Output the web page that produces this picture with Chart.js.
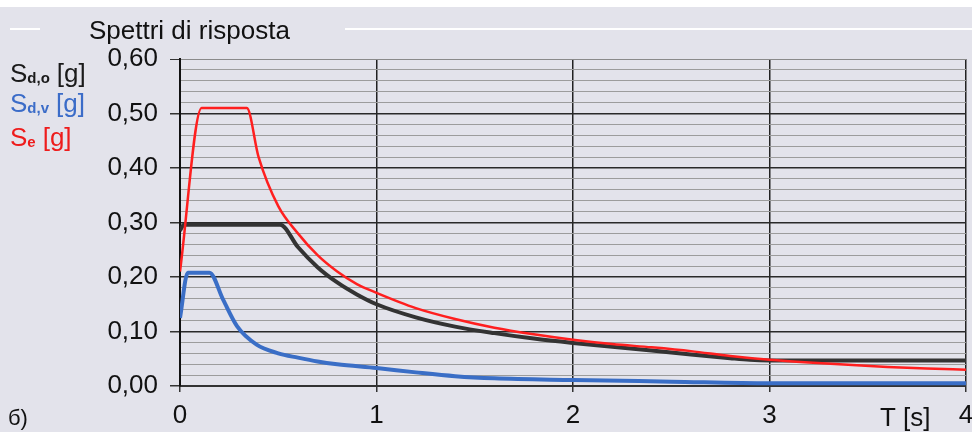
<!DOCTYPE html>
<html>
<head>
<meta charset="utf-8">
<script src="https://cdn.jsdelivr.net/npm/chart.js@4"></script>
<style>
  html, body { margin: 0; padding: 0; background: #e3e3eb; }
  #wrap { position: relative; width: 972px; height: 432px; }
</style>
</head>
<body>
<div id="wrap"><canvas id="myChart" width="972" height="432"></canvas></div>
<script>
// Se [g] - elastic spectrum (red)
var tSe = [0, 0.11, 0.34, 0.4, 0.5, 0.6, 0.7, 0.8, 0.9, 1.0, 1.2, 1.4, 1.6, 1.8, 2.0, 2.2, 2.4, 2.6, 2.8, 3.0, 3.2, 3.4, 3.6, 3.8, 4.0];
var se  = [0.21, 0.51, 0.51, 0.42, 0.33, 0.28, 0.24, 0.21, 0.187, 0.171, 0.143, 0.123, 0.107, 0.095, 0.085, 0.077, 0.071, 0.064, 0.055, 0.048, 0.043, 0.039, 0.035, 0.032, 0.030];
// Sd,o [g] - horizontal design spectrum (black)
var tSdo = [0, 0.02, 0.51, 0.6, 0.7, 0.8, 0.9, 1.0, 1.2, 1.4, 1.6, 1.8, 2.0, 2.2, 2.4, 2.6, 2.8, 2.9, 3.0, 3.5, 4.0];
var sdo  = [0.285, 0.296, 0.296, 0.255, 0.218, 0.19, 0.168, 0.15, 0.126, 0.109, 0.097, 0.087, 0.079, 0.072, 0.065, 0.058, 0.051, 0.048, 0.047, 0.047, 0.047];
// Sd,v [g] - vertical design spectrum (blue)
var tSdv = [0, 0.04, 0.15, 0.22, 0.29, 0.39, 0.5, 0.6, 0.7, 0.8, 1.0, 1.2, 1.4, 1.6, 2.0, 2.5, 3.0, 4.0];
var sdv  = [0.125, 0.208, 0.208, 0.158, 0.11, 0.076, 0.06, 0.052, 0.045, 0.04, 0.033, 0.025, 0.018, 0.014, 0.011, 0.008, 0.005, 0.005];

var xTicks = [0, 1, 2, 3, 4];

var FONT = "'Liberation Sans', Arial, sans-serif";

function pts(t, v) {
  return t.map(function(x, i) { return { x: x, y: v[i] }; });
}
function isMajor(v) {
  return Math.round(v * 50) % 5 === 0;
}

var decor = {
  id: 'decor',
  beforeDraw: function(chart) {
    var c = chart.ctx;
    c.save();
    c.fillStyle = '#e3e3eb';
    c.fillRect(0, 0, 972, 432);
    c.fillStyle = '#ffffff';
    c.fillRect(0, 0, 972, 7);
    c.strokeStyle = '#ffffff';
    c.lineWidth = 2;
    c.beginPath();
    c.moveTo(10, 29); c.lineTo(40, 29);
    c.moveTo(345, 29); c.lineTo(972, 29);
    c.stroke();
    c.restore();
  },
  afterDraw: function(chart) {
    var c = chart.ctx;
    c.save();
    c.textBaseline = 'alphabetic';
    c.fillStyle = '#111';
    c.font = '26px ' + FONT;
    c.fillText('Spettri di risposta', 89, 39);

    function label(y, sub, col) {
      var x = 10;
      c.fillStyle = col;
      c.font = '26px ' + FONT;
      c.fillText('S', x, y);
      x += c.measureText('S').width;
      c.font = 'bold 15px ' + FONT;
      c.fillText(sub, x, y + 1);
      x += c.measureText(sub).width + 7;
      c.font = '26px ' + FONT;
      c.fillText('[g]', x, y);
    }
    label(82, 'd,o', '#1a1a1a');
    label(112, 'd,v', '#3b6cc8');
    label(146, 'e', '#ee1c1c');

    c.fillStyle = '#111';
    c.font = '26px ' + FONT;
    c.fillText('T [s]', 880, 426);
    c.font = '22px ' + FONT;
    c.fillText('б)', 8, 425);
    c.restore();
  }
};

var chart = new Chart('myChart', {
  type: 'line',
  data: {
    datasets: [
      { label: 'Se', data: pts(tSe, se), borderColor: '#ff1f1f', borderWidth: 2.5, order: 0 },
      { label: 'Sd,o', data: pts(tSdo, sdo), borderColor: '#333333', borderWidth: 4, order: 1 },
      { label: 'Sd,v', data: pts(tSdv, sdv), borderColor: '#3a6ec6', borderWidth: 4, order: 2 }
    ]
  },
  options: {
    responsive: false,
    animation: false,
    layout: { padding: { top: 59, right: 6, left: 0, bottom: 0 } },
    elements: { point: { radius: 0 }, line: { cubicInterpolationMode: 'monotone', borderJoinStyle: 'round' } },
    plugins: { legend: { display: false }, tooltip: { enabled: false } },
    scales: {
      x: {
        type: 'linear', min: 0, max: 4,
        afterFit: function(s) { s.height = 46; s.paddingRight = 0; s.paddingLeft = 0; },
        afterBuildTicks: function(s) { s.ticks = xTicks.map(function(v) { return { value: v }; }); },
        grid: { color: '#222', lineWidth: 1.5, tickLength: 6, tickColor: '#333' },
        border: { display: true, color: '#333', width: 2 },
        ticks: { color: '#111', font: { family: FONT, size: 26 }, padding: 8, maxRotation: 0 }
      },
      y: {
        min: 0, max: 0.6,
        afterFit: function(s) { s.width = 180; s.paddingTop = 0; s.paddingBottom = 0; },
        afterBuildTicks: function(s) {
          var arr = [];
          for (var i = 0; i <= 30; i++) arr.push({ value: i / 50 });
          s.ticks = arr;
        },
        grid: {
          color: function(ctx) {
            var v = ctx.tick.value;
            if (Math.round(v * 50) === 30) return '#8a8a8a';
            return isMajor(v) ? '#2a2a2a' : '#9c9c9c';
          },
          lineWidth: function(ctx) { return isMajor(ctx.tick.value) && Math.round(ctx.tick.value * 50) !== 30 ? 1.5 : 1; },
          tickLength: 10,
          tickColor: function(ctx) { return isMajor(ctx.tick.value) ? '#333' : 'rgba(0,0,0,0)'; }
        },
        border: { display: true, color: '#111', width: 2 },
        ticks: {
          color: '#111', font: { family: FONT, size: 26 }, padding: 12, autoSkip: false,
          callback: function(v) {
            if (!isMajor(v)) return '';
            return (Math.round(v * 10) / 10).toFixed(2).replace('.', ',');
          }
        }
      }
    }
  },
  plugins: [decor]
});
</script>
</body>
</html>
